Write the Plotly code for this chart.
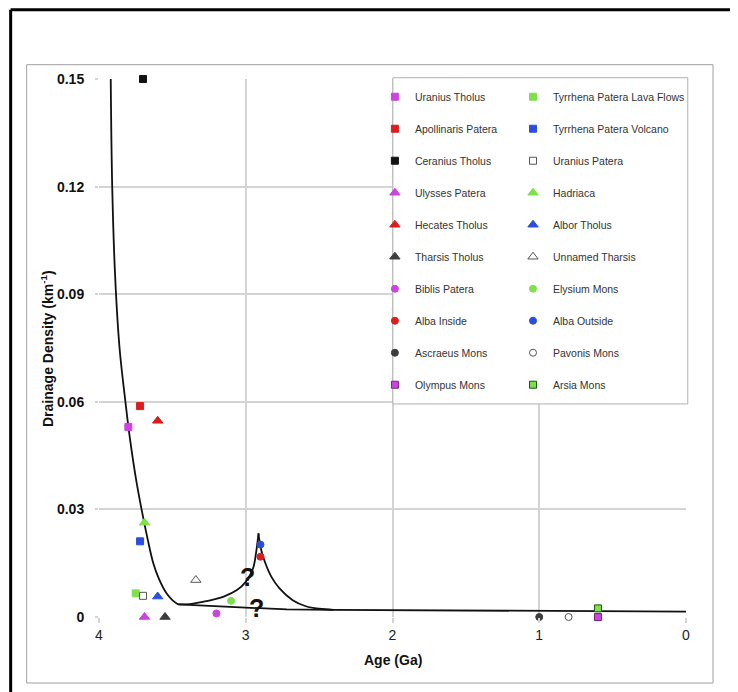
import plotly.graph_objects as go

# ---------------- data ----------------
col1_names = ["Uranius Tholus", "Apollinaris Patera", "Ceranius Tholus", "Ulysses Patera",
              "Hecates Tholus", "Tharsis Tholus", "Biblis Patera", "Alba Inside",
              "Ascraeus Mons", "Olympus Mons"]
col1_age = [3.80, 3.72, 3.70, 3.69, 3.60, 3.55, 3.20, 2.90, 1.00, 0.60]
col1_dd = [0.0530, 0.0588, 0.150, 0.0, 0.0547, 0.0, 0.0010, 0.0168, 0.0, 0.0]

col2_names = ["Tyrrhena Patera Lava Flows", "Tyrrhena Patera Volcano", "Uranius Patera",
              "Hadriaca", "Albor Tholus", "Unnamed Tharsis", "Elysium Mons",
              "Alba Outside", "Pavonis Mons", "Arsia Mons"]
col2_age = [3.75, 3.72, 3.70, 3.69, 3.60, 3.34, 3.10, 2.90, 0.80, 0.60]
col2_dd = [0.0066, 0.0211, 0.0059, 0.0263, 0.0057, 0.0103, 0.0045, 0.0202, 0.0, 0.0024]

# trend curve
decay_x = [3.92, 3.91, 3.89, 3.86, 3.82, 3.79, 3.75, 3.71, 3.67, 3.63, 3.59, 3.54, 3.50, 3.46]
decay_y = [0.150, 0.120, 0.095, 0.075, 0.060, 0.050, 0.039, 0.030, 0.022, 0.015, 0.0105, 0.0066, 0.0047, 0.0035]
low_x = [3.46, 3.30, 3.15, 2.95, 2.72, 2.40, 1.30, 0.0]
low_y = [0.0035, 0.0032, 0.0028, 0.0024, 0.0021, 0.0020, 0.0018, 0.0015]
rise_x = [3.46, 3.38, 3.27, 3.15, 3.06, 3.00, 2.95, 2.93, 2.913]
rise_y = [0.0035, 0.0036, 0.0044, 0.0057, 0.0075, 0.0098, 0.0136, 0.0178, 0.0233]
fall_x = [2.913, 2.90, 2.87, 2.825, 2.77, 2.68, 2.59, 2.50, 2.40]
fall_y = [0.0233, 0.0196, 0.0154, 0.0112, 0.0080, 0.0047, 0.0030, 0.0023, 0.0020]

q_x = [2.991, 2.927]
q_y = [0.0112, 0.0026]

x_ticks = [4, 3, 2, 1, 0]
y_ticks = [0, 0.03, 0.06, 0.09, 0.12, 0.15]
y_ticktext = ["0", "0.03", "0.06", "0.09", "0.12", "0.15"]

# ---------------- styles ----------------
MAG = "#cc44e0"
RED = "#dd1c1c"
BLK = "#111111"
GRN = "#7ee04a"
BLU = "#2a4ee0"
DGR = "#3d3d3d"

col1_style = [
    ("square", MAG, MAG, 7), ("square", RED, RED, 7), ("square", BLK, BLK, 7),
    ("triangle-up", MAG, MAG, 9), ("triangle-up", RED, RED, 9), ("triangle-up", DGR, DGR, 9),
    ("circle", MAG, MAG, 7), ("circle", RED, RED, 7), ("circle", DGR, DGR, 7),
    ("square", MAG, "#7a2080", 7),
]
col2_style = [
    ("square", GRN, GRN, 7), ("square", BLU, BLU, 7), ("square", "white", "#555555", 7),
    ("triangle-up", GRN, GRN, 9), ("triangle-up", BLU, BLU, 9), ("triangle-up", "white", "#555555", 9),
    ("circle", GRN, GRN, 7), ("circle", BLU, BLU, 7), ("circle", "white", "#555555", 7),
    ("square", GRN, "#1d5510", 7),
]

fig = go.Figure()

for xs, ys, shape in [(decay_x, decay_y, "spline"), (low_x, low_y, "linear"),
                      (rise_x, rise_y, "spline"), (fall_x, fall_y, "spline")]:
    fig.add_trace(go.Scatter(x=xs, y=ys, mode="lines", showlegend=False, hoverinfo="skip",
                             line=dict(color="#111111", width=1.8, shape=shape)))

for names, ages, dds, styles, lg in [(col1_names, col1_age, col1_dd, col1_style, "legend"),
                                     (col2_names, col2_age, col2_dd, col2_style, "legend2")]:
    for n, a, d, (sym, fc, lc, sz) in zip(names, ages, dds, styles):
        fig.add_trace(go.Scatter(
            x=[a], y=[d], mode="markers", name=n, legend=lg, legendgroup=n,
            cliponaxis=False,
            marker=dict(symbol=sym, color=fc, size=sz, line=dict(color=lc, width=1))))

for qx, qy in zip(q_x, q_y):
    fig.add_annotation(x=qx, y=qy, text="?", showarrow=False, xanchor="center", yanchor="middle",
                       font=dict(family="Liberation Sans, Arial", size=25, color="#111111", weight="bold"))

# frames
fig.add_shape(type="rect", xref="paper", yref="paper", x0=-0.1232, x1=1.046, y0=-0.1227, y1=1.0266,
              line=dict(color="#a0a0a0", width=1), layer="below")
fig.add_shape(type="line", xref="paper", yref="paper", x0=-0.1505, x1=1.095, y0=1.1289, y1=1.1289,
              line=dict(color="#000000", width=3))
fig.add_shape(type="line", xref="paper", yref="paper", x0=-0.1505, x1=-0.1505, y0=1.1289, y1=-0.15,
              line=dict(color="#000000", width=3))
# legend box
fig.add_shape(type="rect", xref="paper", yref="paper", x0=0.5006, x1=1.003, y0=0.396, y1=1.0024,
              line=dict(color="#b0b0b0", width=1), fillcolor="white", layer="above")

fig.add_annotation(xref="paper", yref="paper", x=0.5, y=-0.08, text="Age (Ga)", showarrow=False,
                   xanchor="center", yanchor="middle",
                   font=dict(family="Liberation Sans, Arial", size=14, color="#111111", weight="bold"))
fig.add_annotation(xref="paper", yref="paper", x=-0.0886, y=0.5, text="Drainage Density (km<sup>-1</sup>)",
                   showarrow=False, textangle=-90, xanchor="center", yanchor="middle",
                   font=dict(family="Liberation Sans, Arial", size=14, color="#111111", weight="bold"))

legfont = dict(family="Liberation Sans, Arial", size=10.5, color="#333333")
fig.update_layout(
    width=730, height=684,
    margin=dict(l=91, r=52, t=71, b=75),
    paper_bgcolor="white", plot_bgcolor="white",
    font=dict(family="Liberation Sans, Arial", color="#111111"),
    legend=dict(x=0.470, y=0.994, xanchor="left", yanchor="top", bgcolor="rgba(0,0,0,0)",
                borderwidth=0, font=legfont, tracegroupgap=13),
    legend2=dict(x=0.7053, y=0.994, xanchor="left", yanchor="top", bgcolor="rgba(0,0,0,0)",
                 borderwidth=0, font=legfont, tracegroupgap=13),
    xaxis=dict(range=[4, 0], tickvals=x_ticks, showgrid=True, gridcolor="#d4d4d4", gridwidth=1.5,
               zeroline=False, showline=False, ticks="outside", ticklen=5, tickcolor="#d4d4d4",
               tickwidth=1.5, tickfont=dict(size=14, color="#222222")),
    yaxis=dict(range=[0, 0.15], tickvals=y_ticks, ticktext=y_ticktext, showgrid=True,
               gridcolor="#d4d4d4", gridwidth=1.5, zeroline=False, showline=False,
               ticks="outside", ticklen=3, tickcolor="#d4d4d4", tickwidth=1.5,
               ticklabelstandoff=8,
               tickfont=dict(size=14, color="#111111", weight="bold")),
)

fig.write_html("out.html")
